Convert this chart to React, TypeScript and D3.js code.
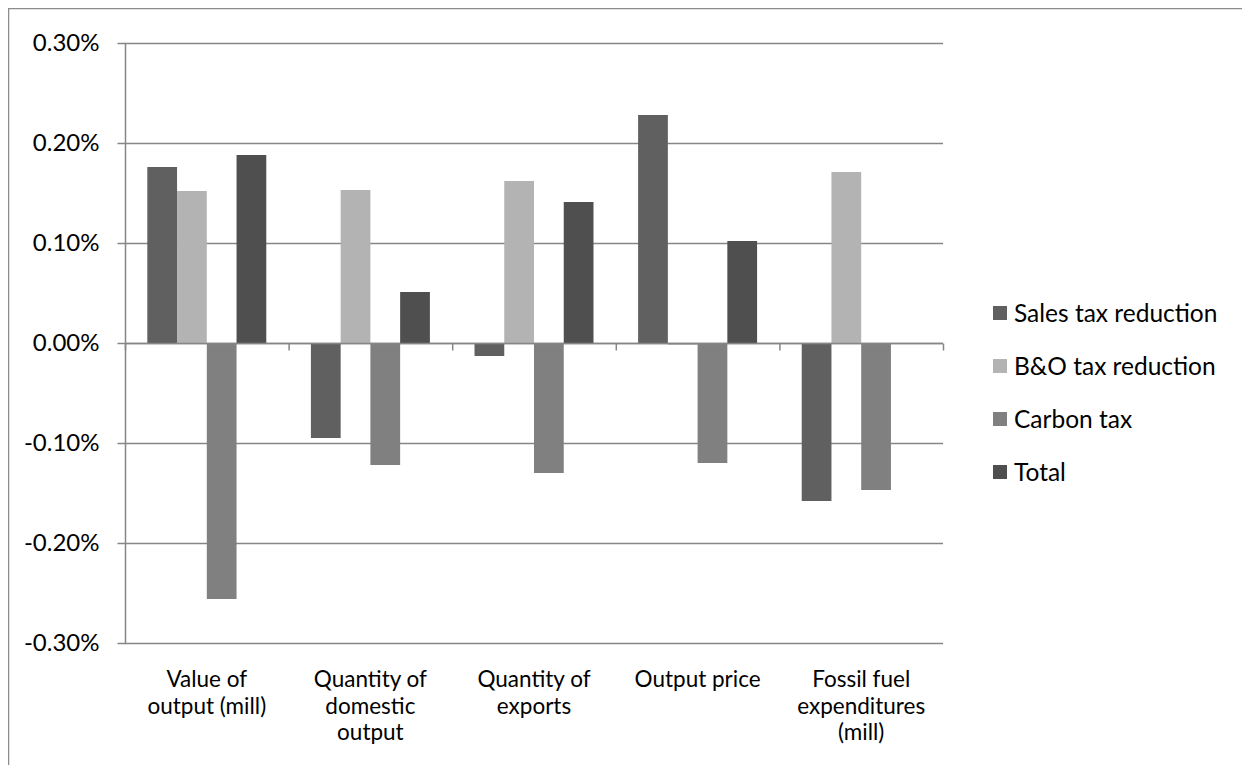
import * as d3 from "d3";
import { useEffect, useRef } from "react";

const categories = [
  "Value of output (mill)",
  "Quantity of domestic output",
  "Quantity of exports",
  "Output price",
  "Fossil fuel expenditures (mill)",
];
const categoryLines = [
  ["Value of", "output (mill)"],
  ["Quantity of", "domestic", "output"],
  ["Quantity of", "exports"],
  ["Output price"],
  ["Fossil fuel", "expenditures", "(mill)"],
];
const seriesNames = ["Sales tax reduction", "B&O tax reduction", "Carbon tax", "Total"];
const salesTax = [0.00176, -0.00095, -0.00013, 0.00228, -0.00158];
const boTax = [0.00152, 0.00153, 0.00162, -0.00002, 0.00171];
const carbonTax = [-0.00256, -0.00122, -0.0013, -0.0012, -0.00147];
const total = [0.00188, 0.00051, 0.00141, 0.00102, -0.00001];
const yTicks = [-0.003, -0.002, -0.001, 0, 0.001, 0.002, 0.003];
const seriesColors = ["#606060", "#b3b3b3", "#808080", "#4f4f4f"];

const FONT = "Lato, 'Open Sans', sans-serif";

export default function App() {
  const svgRef = useRef(null);

  useEffect(() => {
    const svg = d3.select(svgRef.current);
    svg.selectAll("*").remove();
    // page coordinates (body margin is 8px)
    const g = svg.append("g").attr("transform", "translate(-8,-8)");

    const left = 125;
    const right = 943;
    const top = 43;
    const bottom = 643;

    g.append("rect")
      .attr("x", 8.5)
      .attr("y", 8.5)
      .attr("width", 1400)
      .attr("height", 1000)
      .attr("fill", "#fff")
      .attr("stroke", "#8c8c8c")
      .attr("stroke-width", 1.5);

    const x = d3.scaleBand().domain(categories).range([left, right]);
    const xs = d3
      .scaleBand()
      .domain(seriesNames)
      .range([0, x.bandwidth()])
      .paddingInner(0)
      .paddingOuter(0.75);
    const y = d3.scaleLinear().domain([-0.003, 0.003]).range([bottom, top]);

    const fmt = d3
      .formatLocale({ decimal: ".", thousands: ",", grouping: [3], currency: ["$", ""], minus: "-" })
      .format(".2%");

    // gridlines
    g.append("g")
      .selectAll("line")
      .data(yTicks)
      .join("line")
      .attr("x1", left)
      .attr("x2", right)
      .attr("y1", (d) => Math.round(y(d)) + 0.5)
      .attr("y2", (d) => Math.round(y(d)) + 0.5)
      .attr("stroke", "#868686")
      .attr("stroke-width", 1.5);

    // y axis
    const yAxis = d3
      .axisLeft(y)
      .tickValues(yTicks)
      .tickSize(8)
      .tickPadding(18)
      .tickFormat((d) => fmt(d as number));
    const ya = g.append("g").attr("transform", `translate(${left + 0.5},0)`).call(yAxis);
    ya.select(".domain").remove();
    ya.append("line")
      .attr("y1", top)
      .attr("y2", bottom)
      .attr("stroke", "#868686")
      .attr("stroke-width", 1.5);
    ya.selectAll(".tick line").attr("stroke", "#868686").attr("stroke-width", 1.5);
    ya.selectAll(".tick text")
      .attr("font-family", FONT)
      .attr("font-size", 24)
      .attr("fill", "#000");

    const series = [salesTax, boTax, carbonTax, total];

    // bars
    series.forEach((vals, si) => {
      g.append("g")
        .selectAll("rect")
        .data(vals)
        .join("rect")
        .attr("x", (_, i) => (x(categories[i]) as number) + (xs(seriesNames[si]) as number))
        .attr("width", xs.bandwidth())
        .attr("y", (d) => y(Math.max(0, d)))
        .attr("height", (d) => Math.max(0.8, Math.abs(y(d) - y(0))))
        .attr("fill", seriesColors[si]);
    });

    // x axis at zero
    const zeroY = Math.round(y(0)) + 0.5;
    g.append("line")
      .attr("x1", left)
      .attr("x2", right)
      .attr("y1", zeroY)
      .attr("y2", zeroY)
      .attr("stroke", "#868686")
      .attr("stroke-width", 1.5);
    const boundaries = categories.map((c) => x(c) as number).concat([right]);
    g.append("g")
      .selectAll("line")
      .data(boundaries)
      .join("line")
      .attr("x1", (d) => d + 0.5)
      .attr("x2", (d) => d + 0.5)
      .attr("y1", zeroY)
      .attr("y2", zeroY + 7)
      .attr("stroke", "#868686")
      .attr("stroke-width", 1.5);

    // category labels
    const labels = g
      .append("g")
      .selectAll("text")
      .data(categories)
      .join("text")
      .attr("x", (d) => (x(d) as number) + x.bandwidth() / 2)
      .attr("y", 687)
      .attr("text-anchor", "middle")
      .attr("font-family", FONT)
      .attr("font-size", 22.5)
      .attr("fill", "#000");
    labels
      .selectAll("tspan")
      .data((_, i) => categoryLines[i])
      .join("tspan")
      .attr("x", function () {
        return (this.parentNode as SVGTextElement).getAttribute("x");
      })
      .attr("dy", (_, j) => (j === 0 ? 0 : 26.5))
      .text((d) => d);

    // legend
    const legend = g
      .append("g")
      .selectAll("g")
      .data(seriesNames)
      .join("g")
      .attr("transform", (_, i) => `translate(993,${306 + i * 53})`);
    legend
      .append("rect")
      .attr("width", 14)
      .attr("height", 14)
      .attr("fill", (_, i) => seriesColors[i]);
    legend
      .append("text")
      .attr("x", 21)
      .attr("y", 15.5)
      .attr("font-family", FONT)
      .attr("font-size", 24.5)
      .attr("fill", "#000")
      .text((d) => d);
  }, []);

  return <svg ref={svgRef} width={1242} height={757} style={{ display: "block" }} />;
}
